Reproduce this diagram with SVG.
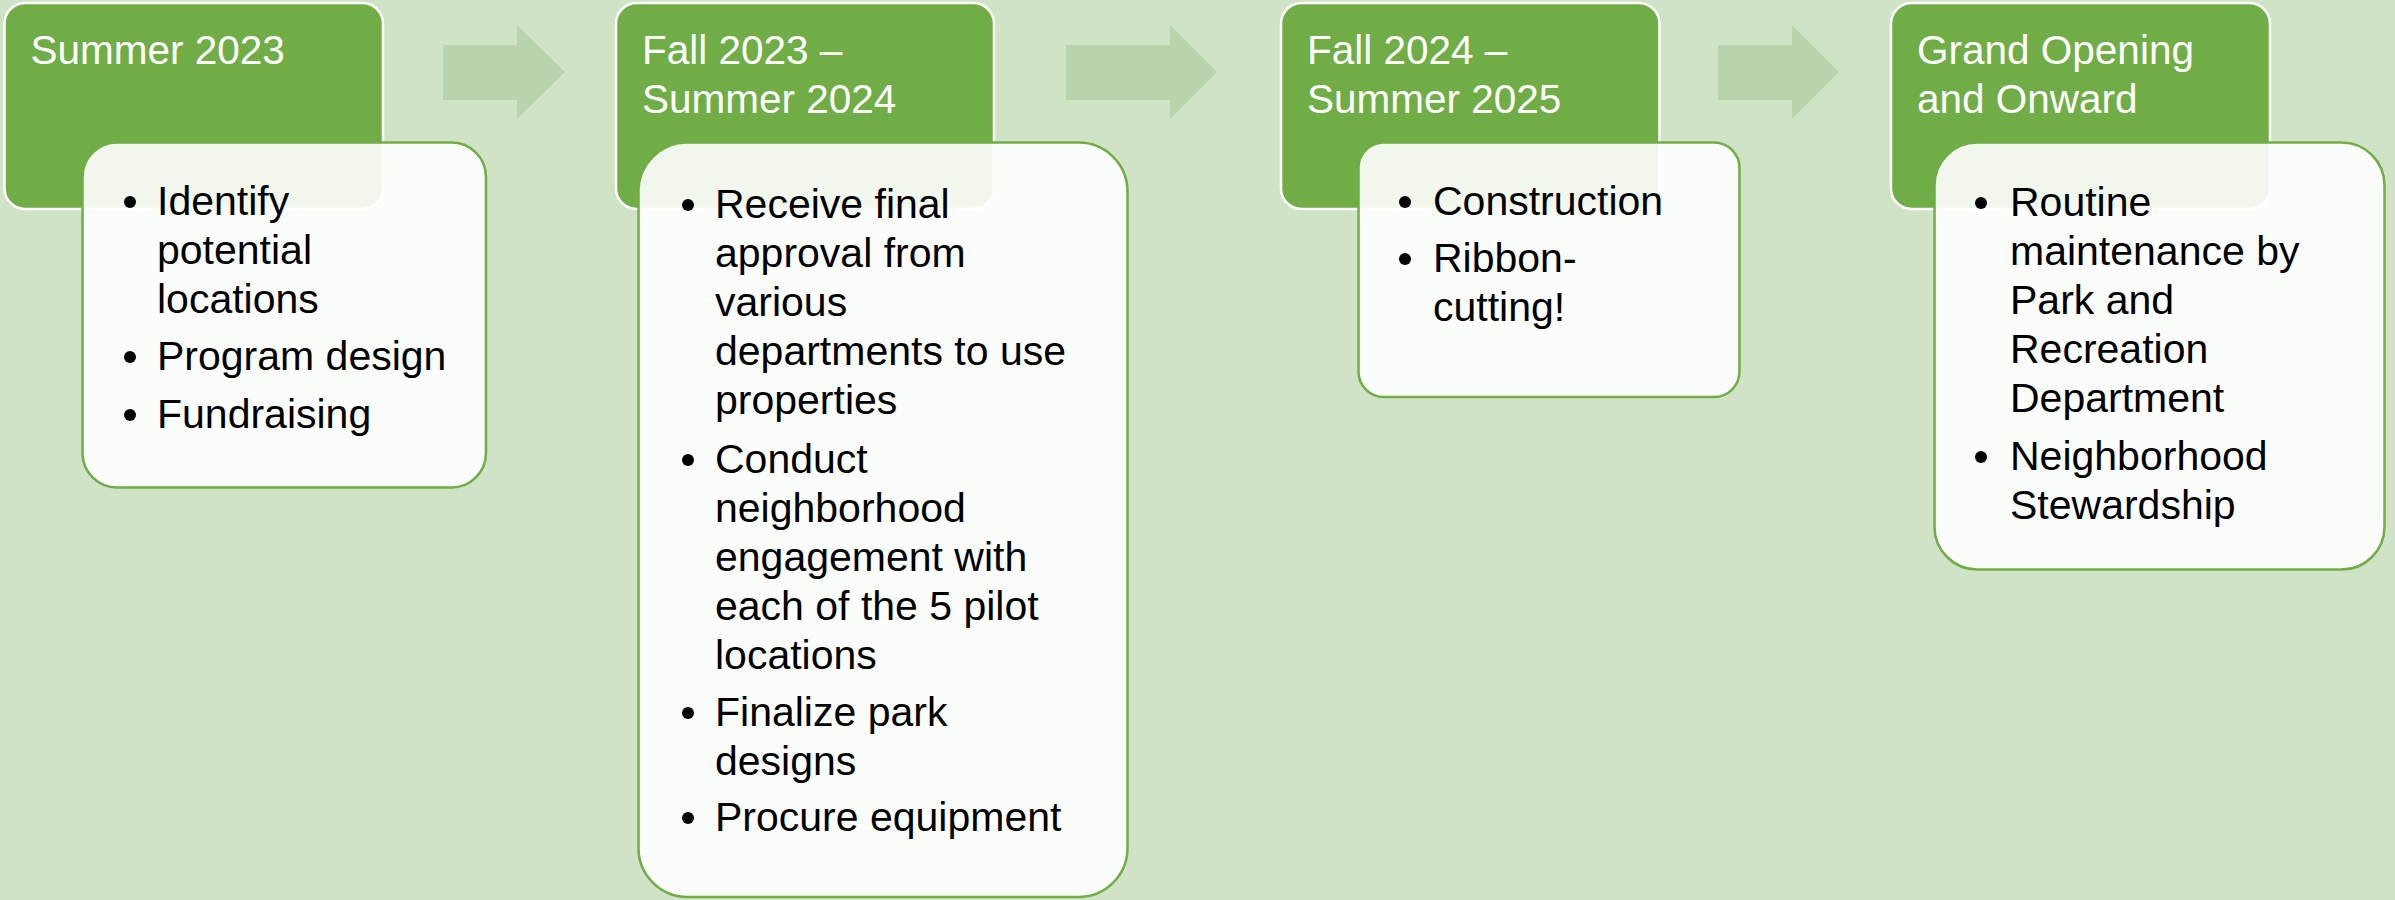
<svg xmlns="http://www.w3.org/2000/svg" width="2395" height="900" viewBox="0 0 2395 900">
<style>
.bg{fill:#d0e3c6}
.hdr{fill:#70ad47;stroke:#ffffff;stroke-width:2.5}
.det{fill:#ffffff;fill-opacity:0.9;stroke:#70ad47;stroke-width:2.5}
.arr{fill:#b9d3ad}
.ht{font-family:"Liberation Sans",Arial,sans-serif;font-size:40.5px;fill:#ffffff}
.bt{font-family:"Liberation Sans",Arial,sans-serif;font-size:41px;fill:#000000}
.dot{fill:#000000}
</style>
<rect class="bg" x="0" y="0" width="2395" height="900"/>
<g id="connectors">
<polygon class="arr" points="443,45 517,45 517,25 565,72 517,119 517,100 443,100"/>
<polygon class="arr" points="1066,45 1170,45 1170,25 1217,72 1170,119 1170,100 1066,100"/>
<polygon class="arr" points="1718,45 1792,45 1792,25 1839,72 1792,119 1792,100 1718,100"/>
</g>
<g id="phase1">
<rect class="hdr" x="4.5" y="3" width="378.5" height="206" rx="20.6"/>
<text class="ht" x="30.5" y="64">Summer 2023</text>
</g>
<g id="details1">
<rect class="det" x="82.5" y="142.5" width="403.5" height="345" rx="34.5"/>
<circle class="dot" cx="130" cy="202" r="6"/>
<circle class="dot" cx="130" cy="357" r="6"/>
<circle class="dot" cx="130" cy="415" r="6"/>
<text class="bt" x="157" y="215">Identify</text>
<text class="bt" x="157" y="264">potential</text>
<text class="bt" x="157" y="313">locations</text>
<text class="bt" x="157" y="370">Program design</text>
<text class="bt" x="157" y="428">Fundraising</text>
</g>
<g id="phase2">
<rect class="hdr" x="616" y="3" width="378" height="206" rx="20.6"/>
<text class="ht" x="642" y="64">Fall 2023 –</text>
<text class="ht" x="642" y="113">Summer 2024</text>
</g>
<g id="details2">
<rect class="det" x="638.5" y="142.5" width="489" height="754.5" rx="49"/>
<circle class="dot" cx="688" cy="205" r="6"/>
<circle class="dot" cx="688" cy="460" r="6"/>
<circle class="dot" cx="688" cy="713" r="6"/>
<circle class="dot" cx="688" cy="818" r="6"/>
<text class="bt" x="715" y="218">Receive final</text>
<text class="bt" x="715" y="267">approval from</text>
<text class="bt" x="715" y="316">various</text>
<text class="bt" x="715" y="365">departments to use</text>
<text class="bt" x="715" y="414">properties</text>
<text class="bt" x="715" y="473">Conduct</text>
<text class="bt" x="715" y="522">neighborhood</text>
<text class="bt" x="715" y="571">engagement with</text>
<text class="bt" x="715" y="620">each of the 5 pilot</text>
<text class="bt" x="715" y="669">locations</text>
<text class="bt" x="715" y="726">Finalize park</text>
<text class="bt" x="715" y="775">designs</text>
<text class="bt" x="715" y="831">Procure equipment</text>
</g>
<g id="phase3">
<rect class="hdr" x="1281" y="3" width="378.5" height="206" rx="20.6"/>
<text class="ht" x="1307" y="64">Fall 2024 –</text>
<text class="ht" x="1307" y="113">Summer 2025</text>
</g>
<g id="details3">
<rect class="det" x="1358.5" y="142.5" width="381" height="254.5" rx="25.5"/>
<circle class="dot" cx="1405" cy="202" r="6"/>
<circle class="dot" cx="1405" cy="259" r="6"/>
<text class="bt" x="1433" y="215">Construction</text>
<text class="bt" x="1433" y="272">Ribbon-</text>
<text class="bt" x="1433" y="321">cutting!</text>
</g>
<g id="phase4">
<rect class="hdr" x="1891" y="3" width="379" height="206" rx="20.6"/>
<text class="ht" x="1917" y="64">Grand Opening</text>
<text class="ht" x="1917" y="113">and Onward</text>
</g>
<g id="details4">
<rect class="det" x="1934.5" y="142.5" width="450" height="427" rx="42.7"/>
<circle class="dot" cx="1981" cy="203" r="6"/>
<circle class="dot" cx="1981" cy="457" r="6"/>
<text class="bt" x="2010" y="216">Routine</text>
<text class="bt" x="2010" y="265">maintenance by</text>
<text class="bt" x="2010" y="314">Park and</text>
<text class="bt" x="2010" y="363">Recreation</text>
<text class="bt" x="2010" y="412">Department</text>
<text class="bt" x="2010" y="470">Neighborhood</text>
<text class="bt" x="2010" y="519">Stewardship</text>
</g>
</svg>
